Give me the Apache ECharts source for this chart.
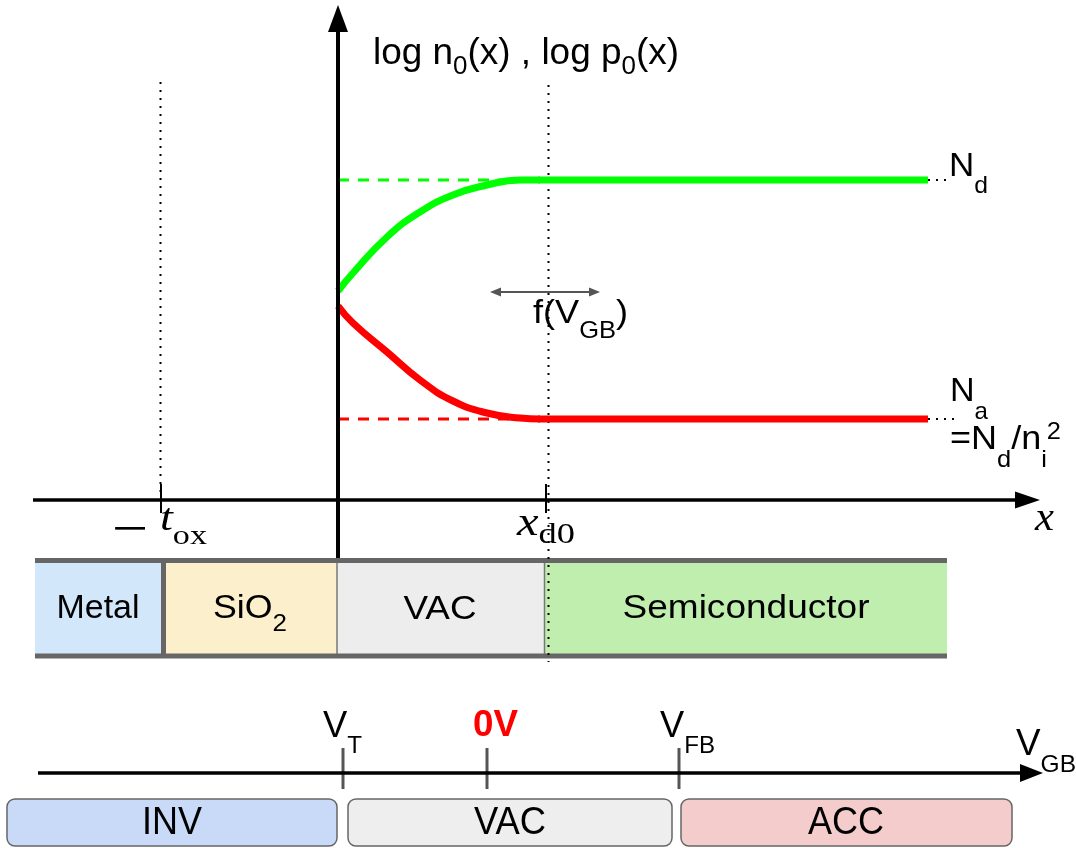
<!DOCTYPE html>
<html><head><meta charset="utf-8">
<script src="https://cdn.jsdelivr.net/npm/echarts@6/dist/echarts.min.js"></script>
<style>html,body{margin:0;padding:0;background:#fff}#c{width:1076px;height:848px}</style>
</head><body><div id="c"></div>
<script>
// ================= DATA (diagram units, x right, y down) =================
// electron concentration log n0(x) (green) and hole concentration log p0(x) (red), depletion part
const nCurveX = [338, 353, 387, 420, 453, 487, 520, 540];
const nCurveY = [291, 273, 237, 212, 195, 185, 180, 180];
const pCurveX = [338, 353, 387, 420, 453, 487, 520, 540];
const pCurveY = [306, 323, 352, 380, 401, 413, 418, 419];
// bulk levels
const ndLevel = 180, naLevel = 419;
const refStartX = 338, refEndX = 532;
const bulkStartX = 540, bulkEndX = 928;
// axis positions
const toxX = 161, xd0X = 546;
const axisArrows = [[33, 500, 1040, 500], [338, 558, 338, 5], [38, 773, 1043, 773]];
const mainTicks = [[toxX, 484, toxX, 513], [xd0X, 484, xd0X, 513]];
const guideLines = [[160.5, 82, 160.5, 498], [548.5, 85, 548.5, 662], [928, 180, 950, 180], [928, 419, 956, 419]];
const shiftArrow = [490, 292, 600, 292];
// layer stack
const layerNames = ['Metal', 'SiO', 'VAC', 'Semiconductor'];
const layerEdges = [35, 163.5, 337, 544.5, 947];
const layerBand = [560.5, 656];
// gate-voltage axis
const vgbTickX = [343, 487, 679];
const vgbTickBand = [748, 789];
const regimeNames = ['INV', 'VAC', 'ACC'];
const regimeEdges = [[7, 337], [348, 672], [681, 1012]];
const regimeBand = [799, 846];

// ================= LABELS =================
// parts: [text, fontSize, dy, fontKey, color]
const labels = [
  {x: 373, y: 54, a: 'l', w: 306, parts: [['log n', 37, 0], ['0', 26, 13], ['(x) , log p', 37, 0], ['0', 26, 13], ['(x)', 37, 0]]},
  {x: 949, y: 167, a: 'l', w: 39, parts: [['N', 34, 0], ['d', 24, 19]]},
  {x: 950, y: 392, a: 'l', w: 38, parts: [['N', 34, 0], ['a', 24, 20]]},
  {x: 950, y: 440, a: 'l', w: 111, parts: [['=N', 34, 0], ['d', 24, 20], ['/n', 34, 0], ['i', 24, 20], ['2', 24, -8]]},
  {x: 533, y: 314, a: 'l', w: 95, parts: [['f(V', 34, 0], ['GB', 24, 17], [')', 34, 0]]},
  {x: 130, y: 530, a: 'c', w: 40, parts: [['\u2212', 34, 0, 'dvs']]},
  {x: 160, y: 520, a: 'l', w: 47, parts: [['t', 38, 0, 'serifI'], ['ox', 28, 17, 'serif']]},
  {x: 517, y: 524, a: 'l', w: 58, parts: [['x', 40, 0, 'serifI'], ['d0', 30, 11, 'serif']]},
  {x: 1035, y: 519, a: 'l', w: 19, parts: [['x', 40, 0, 'serifI']]},
  {x: 98, y: 609, a: 'c', w: 83, parts: [['Metal', 33, 0]]},
  {x: 250, y: 609, a: 'c', w: 74, parts: [['SiO', 33, 0], ['2', 24, 15]]},
  {x: 440, y: 610, a: 'c', w: 73, parts: [['VAC', 33, 0]]},
  {x: 746, y: 609, a: 'c', w: 247, parts: [['Semiconductor', 33, 0]]},
  {x: 323, y: 727, a: 'l', w: 39, parts: [['V', 36, 0], ['T', 24, 19]]},
  {x: 473, y: 726, a: 'l', w: 45, parts: [['0V', 36, 0, 'bold', '#ff0000']]},
  {x: 660, y: 727, a: 'l', w: 55, parts: [['V', 36, 0], ['FB', 24, 19]]},
  {x: 1016, y: 745, a: 'l', w: 60, parts: [['V', 36, 0], ['GB', 24, 20]]},
  {x: 172, y: 823, a: 'c', w: 60, parts: [['INV', 39, 0]]},
  {x: 510, y: 823, a: 'c', w: 72, parts: [['VAC', 39, 0]]},
  {x: 846, y: 823, a: 'c', w: 76, parts: [['ACC', 39, 0]]}
];

// ================= STYLES =================
const FONTS = {
  sans: {family: '"Liberation Sans", Arial, sans-serif', style: 'normal', weight: 'normal'},
  bold: {family: '"Liberation Sans", Arial, sans-serif', style: 'normal', weight: 'bold'},
  serifI: {family: '"Liberation Serif", serif', style: 'italic', weight: 'normal'},
  serif: {family: '"Liberation Serif", serif', style: 'normal', weight: 'normal'},
  dvs: {family: '"DejaVu Serif", serif', style: 'normal', weight: 'normal'}
};
const layerColors = ['#d3e7fb', '#fcefcc', '#ededed', '#bfeeae'];
const regimeColors = ['#c9daf8', '#eeeeee', '#f4cccc'];
const arrowHeads = [[25, 8.5], [27, 10], [23, 9]];
const arrowWidths = [3.5, 4, 3.5];
const GREEN = '#00ff00', RED = '#ff0000';

const mctx = document.createElement('canvas').getContext('2d');
function measure(t, f, s) {
  mctx.font = f.style + ' ' + f.weight + ' ' + s + 'px ' + f.family;
  return mctx.measureText(t).width;
}

const pairs = (xs, ys) => xs.map((x, i) => [x, ys[i]]);

function segSeries(name, segs, color, width, dash, z) {
  return {
    type: 'custom', name, z, silent: true, data: segs,
    renderItem(params, api) {
      const a = api.coord([api.value(0), api.value(1)]);
      const b = api.coord([api.value(2), api.value(3)]);
      return {type: 'line', shape: {x1: a[0], y1: a[1], x2: b[0], y2: b[1]},
        style: {stroke: color, lineWidth: width, lineDash: dash || null, fill: null}};
    }
  };
}

function head(tip, dir, L, H) {
  const nx = -dir[1], ny = dir[0];
  const bx = tip[0] - dir[0] * L, by = tip[1] - dir[1] * L;
  return [[tip[0], tip[1]], [bx + nx * H, by + ny * H], [bx - nx * H, by - ny * H]];
}

function lineSeries(data, color, width, type, z, smooth) {
  return {type: 'line', z, silent: true, symbol: 'none', smooth: smooth || false, data,
    lineStyle: {color, width, type: type || 'solid', cap: 'butt'}};
}

const chart = echarts.init(document.getElementById('c'));
chart.setOption({
  animation: false,
  backgroundColor: '#ffffff',
  grid: {left: 0, right: 0, top: 0, bottom: 0},
  xAxis: {type: 'value', min: 0, max: 1076, show: false},
  yAxis: {type: 'value', min: 0, max: 848, inverse: true, show: false},
  series: [
    // layer stack
    {
      type: 'custom', z: 1, silent: true, data: layerNames.map((n, i) => [layerEdges[i], layerEdges[i + 1]]),
      renderItem(params, api) {
        const a = api.coord([api.value(0), layerBand[0]]);
        const b = api.coord([api.value(1), layerBand[1]]);
        return {type: 'rect', shape: {x: a[0], y: a[1], width: b[0] - a[0], height: b[1] - a[1]},
          style: {fill: layerColors[params.dataIndex]}};
      }
    },
    segSeries('layerBars', [[layerEdges[0], layerBand[0], layerEdges[4], layerBand[0]], [layerEdges[0], layerBand[1], layerEdges[4], layerBand[1]], [layerEdges[1], layerBand[0], layerEdges[1], layerBand[1]]], '#666666', 5, null, 3),
    segSeries('layerThin', [[layerEdges[2], layerBand[0], layerEdges[2], layerBand[1]], [layerEdges[3], layerBand[0], layerEdges[3], layerBand[1]]], '#777777', 1.5, null, 2),
    // regimes
    {
      type: 'custom', z: 1, silent: true, data: regimeEdges.map(e => [e[0], e[1]]),
      renderItem(params, api) {
        const a = api.coord([api.value(0), regimeBand[0]]);
        const b = api.coord([api.value(1), regimeBand[1]]);
        return {type: 'rect', shape: {x: a[0], y: a[1], width: b[0] - a[0], height: b[1] - a[1], r: 8},
          style: {fill: regimeColors[params.dataIndex], stroke: '#666666', lineWidth: 1.5}};
      }
    },
    // dotted guides
    segSeries('guides', guideLines, '#000000', 2, [2, 6], 4),
    // reference dashed levels
    lineSeries([[refStartX, ndLevel], [refEndX, ndLevel]], GREEN, 3, [11, 9], 5),
    lineSeries([[refStartX, naLevel], [refEndX, naLevel]], RED, 3, [11, 9], 5),
    // curves: depletion region (smooth) and bulk (flat)
    lineSeries(pairs(nCurveX, nCurveY), GREEN, 7, 'solid', 6, 0.5),
    lineSeries([[bulkStartX - 2, ndLevel], [bulkEndX, ndLevel]], GREEN, 7, 'solid', 6),
    lineSeries(pairs(pCurveX, pCurveY), RED, 7, 'solid', 6, 0.5),
    lineSeries([[bulkStartX - 2, naLevel], [bulkEndX, naLevel]], RED, 7, 'solid', 6),
    // ticks
    segSeries('mainTicks', mainTicks, '#000000', 2, null, 7),
    segSeries('vgbTicks', vgbTickX.map(x => [x, vgbTickBand[0], x, vgbTickBand[1]]), '#555555', 3, null, 7),
    // axes with arrow heads
    {
      type: 'custom', z: 8, silent: true, data: axisArrows,
      renderItem(params, api) {
        const a = api.coord([api.value(0), api.value(1)]);
        const b = api.coord([api.value(2), api.value(3)]);
        const len = Math.hypot(b[0] - a[0], b[1] - a[1]);
        const d = [(b[0] - a[0]) / len, (b[1] - a[1]) / len];
        const [L, H] = arrowHeads[params.dataIndex];
        return {type: 'group', children: [
          {type: 'line', shape: {x1: a[0], y1: a[1], x2: b[0] - d[0] * (L - 2), y2: b[1] - d[1] * (L - 2)},
            style: {stroke: '#000', lineWidth: arrowWidths[params.dataIndex]}},
          {type: 'polygon', shape: {points: head(b, d, L, H)}, style: {fill: '#000'}}
        ]};
      }
    },
    // f(V_GB) double arrow
    {
      type: 'custom', z: 8, silent: true, data: [shiftArrow],
      renderItem(params, api) {
        const a = api.coord([api.value(0), api.value(1)]);
        const b = api.coord([api.value(2), api.value(3)]);
        const len = Math.hypot(b[0] - a[0], b[1] - a[1]);
        const d = [(b[0] - a[0]) / len, (b[1] - a[1]) / len];
        const nd = [-d[0], -d[1]];
        return {type: 'group', children: [
          {type: 'line', shape: {x1: a[0] + 8, y1: a[1], x2: b[0] - 8, y2: b[1]}, style: {stroke: '#555', lineWidth: 2}},
          {type: 'polygon', shape: {points: head(b, d, 11, 4.5)}, style: {fill: '#555'}},
          {type: 'polygon', shape: {points: head(a, nd, 11, 4.5)}, style: {fill: '#555'}}
        ]};
      }
    },
    // labels
    {
      type: 'custom', z: 10, silent: true, data: labels.map(l => [l.x, l.y]),
      renderItem(params, api) {
        const L = labels[params.dataIndex];
        const p = api.coord([api.value(0), api.value(1)]);
        let ox = 0;
        const kids = L.parts.map(pt => {
          const f = FONTS[pt[3] || 'sans'];
          const w = measure(pt[0], f, pt[1]);
          const k = {type: 'text', x: ox, y: pt[2], style: {text: pt[0], fontSize: pt[1], fontFamily: f.family,
            fontStyle: f.style, fontWeight: f.weight, fill: pt[4] || '#000', align: 'left', verticalAlign: 'middle'}};
          ox += w;
          return k;
        });
        const shift = L.a === 'c' ? -ox / 2 : 0;
        kids.forEach(k => { k.x += shift; });
        const sx = L.w ? L.w / ox : 1;
        return {type: 'group', x: p[0], y: p[1], scaleX: sx, children: kids};
      }
    }
  ]
});
</script>
</body></html>
